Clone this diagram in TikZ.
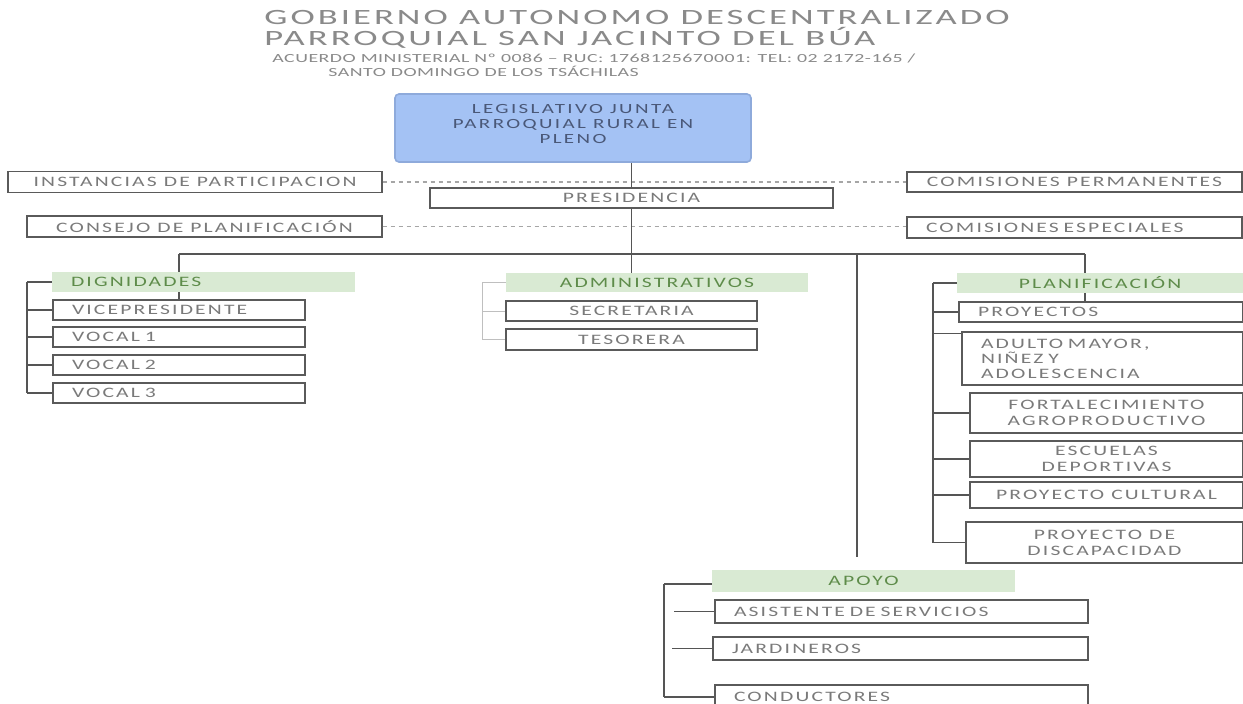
\documentclass[tikz,border=0pt]{standalone}
\usepackage{fontspec}
\setmainfont{Carlito}
\newfontfamily\boxfont[FakeStretch=1.5,LetterSpace=15]{Carlito}
\newfontfamily\titlefont[FakeStretch=1.68,LetterSpace=14]{Carlito}
\newfontfamily\subfont[FakeStretch=1.6,LetterSpace=4]{Carlito}
\newfontfamily\legfont[FakeStretch=1.5,LetterSpace=17]{Carlito}

\definecolor{boxline}{HTML}{5A5A5A}
\definecolor{boxtext}{HTML}{7A7A7A}
\definecolor{linkgray}{HTML}{555555}
\definecolor{titlegray}{HTML}{8A8A8A}
\definecolor{legfill}{HTML}{A4C2F4}
\definecolor{legdraw}{HTML}{8EAADB}
\definecolor{legtext}{HTML}{4A5878}
\definecolor{hdrfill}{HTML}{D9EAD3}
\definecolor{hdrtext}{HTML}{5E8C4A}

\tikzset{
  box/.style={draw=boxline, line width=0.7pt, fill=white, inner sep=0pt, minimum height=10pt,
    text=boxtext, font=\boxfont\fontsize{7.2}{8}\selectfont},
  lbox/.style={box, align=left, inner xsep=9.5pt},
  hdr/.style={fill=hdrfill, inner sep=0pt, minimum height=10pt, text=hdrtext,
    font=\boxfont\fontsize{7.2}{8}\selectfont},
  leg/.style={draw=legdraw, line width=0.8pt, fill=legfill, rounded corners=2pt, align=center,
    minimum width=178pt, minimum height=34pt, text depth=4pt, text=legtext,
    font=\legfont\fontsize{7}{7.5}\selectfont},
  ttl/.style={anchor=west, inner sep=0pt, align=left, text=titlegray},
  link/.style={draw=linkgray, line width=0.7pt},
  faint/.style={draw=gray!50, line width=0.5pt},
  dashlink/.style={draw=gray!70, line width=0.6pt, dash pattern=on 2pt off 2pt}
}

\begin{document}
\begin{tikzpicture}[x=0.5pt, y=-0.5pt]
  \fill[white] (0,0) rectangle (1243,703);
  \useasboundingbox (0,0) rectangle (1243,703);

  % heading
  \node[ttl, font=\titlefont\fontsize{10.9}{8.5}\selectfont] (title) at (264,29.5) {GOBIERNO AUTONOMO DESCENTRALIZADO\\PARROQUIAL SAN JACINTO DEL BÚA};
  \node[ttl, font=\subfont\fontsize{6.2}{6}\selectfont] (acuerdo) at (272,58) {ACUERDO MINISTERIAL Nº 0086 – RUC: 1768125670001: TEL: 02 2172-165 /};
  \node[ttl, font=\subfont\fontsize{6.2}{6}\selectfont] (santo) at (328,71) {SANTO DOMINGO DE LOS TSÁCHILAS};

  % top levels
  \node[leg] (leg) at (573,128) {LEGISLATIVO JUNTA\\PARROQUIAL RURAL EN\\PLENO};
  \node[box, minimum width=187pt, minimum height=10.5pt] (inst) at (195,182) {INSTANCIAS DE PARTICIPACION};
  \node[box, minimum width=201.5pt] (pres) at (631.5,198) {PRESIDENCIA};
  \node[box, minimum width=177.5pt, minimum height=10.5pt] (cons) at (204.5,226.5) {CONSEJO DE PLANIFICACIÓN};
  \node[box, minimum width=167.5pt] (cperm) at (1074.5,182) {COMISIONES PERMANENTES};
  \node[lbox, text width=148.5pt, minimum height=10.5pt] (cesp) at (1074.5,227.5) {COMISIONES ESPECIALES};

  % dignidades
  \node[hdr, align=left, inner xsep=9.5pt, text width=132.5pt] (dig) at (203.5,282) {DIGNIDADES};
  \node[lbox, text width=107pt] (vice) at (179,310) {VICEPRESIDENTE};
  \node[lbox, text width=107pt] (voc1) at (179,337) {VOCAL 1};
  \node[lbox, text width=107pt] (voc2) at (179,365) {VOCAL 2};
  \node[lbox, text width=107pt] (voc3) at (179,393) {VOCAL 3};

  % administrativos
  \node[hdr, minimum width=151pt, minimum height=9.5pt] (adm) at (657,282.5) {ADMINISTRATIVOS};
  \node[box, minimum width=125.5pt] (sec) at (631.5,311) {SECRETARIA};
  \node[box, minimum width=125.5pt, minimum height=10.5pt] (tes) at (631.5,339.5) {TESORERA};

  % planificacion
  \node[hdr, minimum width=143pt] (plan) at (1100,283) {PLANIFICACIÓN};
  \node[lbox, text width=123pt] (proy) at (1101,312) {PROYECTOS};
  \node[lbox, text width=121.5pt, minimum height=26.5pt, font=\boxfont\fontsize{7.2}{7.5}\selectfont] (adult) at (1102.5,358.5) {ADULTO MAYOR,\\NIÑEZ Y\\ADOLESCENCIA};
  \node[box, align=center, minimum width=136.5pt, minimum height=20pt] (fort) at (1106.5,413) {FORTALECIMIENTO\\AGROPRODUCTIVO};
  \node[box, align=center, minimum width=136.5pt, minimum height=18pt] (esc) at (1106.5,459) {ESCUELAS\\DEPORTIVAS};
  \node[box, minimum width=136.5pt, minimum height=13pt] (cult) at (1106.5,495) {PROYECTO CULTURAL};
  \node[box, align=center, minimum width=138.5pt, minimum height=20.5pt] (disc) at (1104.5,542.5) {PROYECTO DE\\DISCAPACIDAD};

  % apoyo
  \node[hdr, minimum width=151.5pt, minimum height=11pt] (apoyo) at (863.5,581) {APOYO};
  \node[lbox, text width=167.5pt, minimum height=11.5pt] (asis) at (901.5,611.5) {ASISTENTE DE SERVICIOS};
  \node[lbox, text width=168.5pt, minimum height=11.5pt] (jard) at (900.5,648.5) {JARDINEROS};
  \node[lbox, text width=167.5pt, minimum height=12pt] (cond) at (901.5,697) {CONDUCTORES};

  % connectors
  \coordinate (busL) at (179,254);
  \coordinate (busR) at (1085,254);
  \coordinate (apoyoEnd) at (857,557);
  \coordinate (digRail) at (27,282);
  \coordinate (admRail) at (482,282);
  \coordinate (planRail) at (933,283);
  \coordinate (apoyoRail) at (664,584);

  \draw[dashlink] (inst.east) -- (inst.east -| cperm.west);
  \draw[dashlink] (cons.east) -- (cons.east -| cesp.west);
  \draw[link] (pres.center |- leg.south) -- (pres.north);
  \draw[link] (pres.south) -- (pres.south |- busL);
  \draw[link] (busL) -- (busR);
  \draw[link] (busL) -- (busL |- dig.north);
  \draw[link] (busL |- dig.south) -- (busL |- vice.north);
  \draw[link] (pres.south |- busL) -- (pres.south |- adm.north);
  \draw[link] (apoyoEnd |- busL) -- (apoyoEnd);
  \draw[link] (busR) -- (busR |- plan.north);
  \draw[link] (busR |- plan.south) -- (busR |- proy.north);

  \draw[link] (digRail) -- (digRail |- voc3.west);
  \foreach \n in {dig,vice,voc1,voc2,voc3}
    \draw[link] (digRail |- \n.west) -- (\n.west);

  \draw[faint] (admRail) -- (admRail |- tes.west);
  \foreach \n in {adm,sec,tes}
    \draw[faint] (admRail |- \n.west) -- (\n.west);

  \draw[link] (planRail) -- (planRail |- disc.west);
  \foreach \n in {plan,proy,fort,esc,cult,disc}
    \draw[link] (planRail |- \n.west) -- (\n.west);
  \draw[link] ([yshift=12.5pt]adult.west -| planRail) -- ([yshift=12.5pt]adult.west);

  \draw[link] (apoyoRail) -- (apoyoRail |- cond.west);
  \draw[link] (apoyoRail) -- (apoyoRail -| apoyo.west);
  \draw[link] (apoyoRail |- cond.west) -- (cond.west);
  \foreach \n in {asis,jard}
    \draw[link] ([xshift=-20pt]\n.west) -- (\n.west);
\end{tikzpicture}
\end{document}
